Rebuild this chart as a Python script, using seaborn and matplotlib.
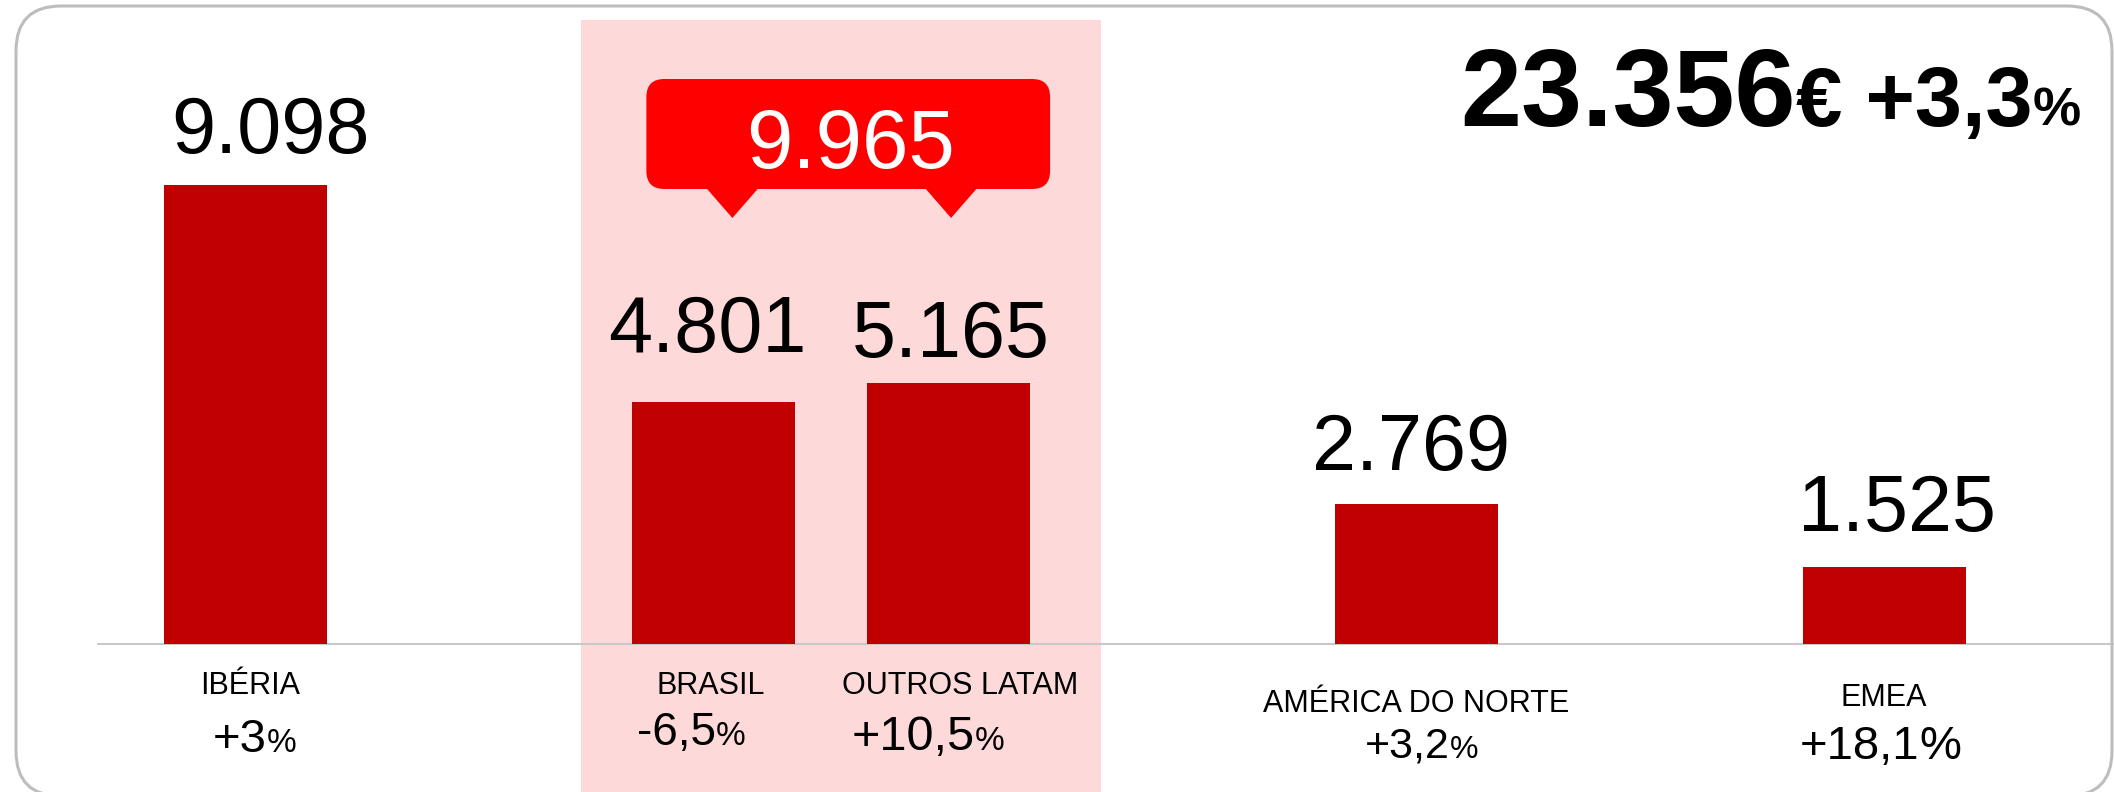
import matplotlib
matplotlib.use("Agg")
import matplotlib.pyplot as plt
from matplotlib.patches import FancyBboxPatch, Polygon, Rectangle
from matplotlib.transforms import IdentityTransform
import seaborn as sns
import pandas as pd

# ---------------- data ----------------
regions = ["IBÉRIA", "BRASIL", "OUTROS LATAM", "AMÉRICA DO NORTE", "EMEA"]
values = [9098, 4801, 5165, 2769, 1525]
growth = ["+3", "-6,5", "+10,5", "+3,2", "+18,1"]
latam_total = 9965
group_total = 23356
group_growth = "+3,3"

# ---------------- layout ----------------
slots = [0, 2, 3, 5, 7]          # horizontal slot of each bar
W, H, DPI = 2114, 792, 100

sns.set_style("white")
plt.rcParams["font.family"] = ["Liberation Sans", "DejaVu Sans"]
plt.rcParams["text.color"] = "black"

fig = plt.figure(figsize=(W / DPI, H / DPI), dpi=DPI)
fig.patch.set_facecolor("white")
ax = fig.add_axes([0, 0, 1, 1])
ax.set_facecolor("none")

ID = IdentityTransform()


def P(x, y):
    """top-origin pixel -> display coords"""
    return (x, H - y)


df = pd.DataFrame({"slot": slots, "value": values, "region": regions})
sns.barplot(data=df, x="slot", y="value", native_scale=True, width=0.696,
            color="#C00000", saturation=1, linewidth=0, ax=ax, zorder=3)
ax.set_xlim(-1.048, 7.978)
ax.set_ylim(-2934, 12765)
ax.set_axis_off()

# pink highlight for LATAM
ax.add_patch(Rectangle(P(581, 792), 520, 772, transform=ID, fc="#FDD9D9",
                       ec="none", zorder=0, clip_on=False))
# baseline
ax.axhline(0, xmin=98 / W, xmax=1, color="#C8C8C8", lw=1.5, zorder=2)
# outer rounded frame
ax.add_patch(FancyBboxPatch(P(16, 796), 2096, 790,
                            boxstyle="round,pad=0,rounding_size=45",
                            transform=ID, fc="none", ec="#BDBDBD", lw=2.2,
                            zorder=6, clip_on=False))

renderer = fig.canvas.get_renderer()


def runs_text(runs, x, y, align="center", color="black"):
    texts, widths = [], []
    for s, size, weight in runs:
        t = fig.text(0, 0, s, fontsize=size, fontweight=weight, transform=ID,
                     ha="left", va="baseline", color=color)
        widths.append(t.get_window_extent(renderer).width)
        texts.append(t)
    x0 = x - sum(widths) / 2 if align == "center" else x
    for t, w in zip(texts, widths):
        t.set_position((x0, y))
        x0 += w


def fmt(v):
    return f"{v:,}".replace(",", ".")


# value labels above bars
label_dx = [25, -7, 3, -5, 12]
label_gap = [32, 50, 26, 34, 36]
for s, v, dx, gap in zip(slots, values, label_dx, label_gap):
    ax.annotate(fmt(v), xy=(s, v), xytext=(dx * 0.72, gap * 0.72),
                textcoords="offset points", ha="center", va="baseline",
                fontsize=57, color="black", zorder=5)

# category + growth labels below baseline
cat_dx = [4.5, -3.5, 12, 0, -1.5]
cat_drop = [50, 50, 50, 68, 62]
pct_dx = [9.5, -22.5, -20, 5, -4.5]
pct_drop = [108, 101, 106, 114, 115]
num_size = [34, 33, 35, 31, 34]
pct_size = [24, 24, 24, 23, 34]
for i, (s, name, g) in enumerate(zip(slots, regions, growth)):
    bx, by = ax.transData.transform((s, 0))
    fig.text(bx + cat_dx[i], by - cat_drop[i], name, transform=ID,
             ha="center", va="baseline", fontsize=22, color="black")
    runs_text([(g, num_size[i], "normal"), ("%", pct_size[i], "normal")],
              bx + pct_dx[i], by - pct_drop[i])

# LATAM callout
b1 = ax.transData.transform((slots[1], 0))[0]
b2 = ax.transData.transform((slots[2], 0))[0]
red = "#FF0000"
ax.add_patch(FancyBboxPatch(P(b1 - 67.5, 189), (b2 + 102) - (b1 - 67.5), 110,
                            boxstyle="round,pad=0,rounding_size=18",
                            transform=ID, fc=red, ec="none", zorder=4,
                            clip_on=False))
for tip in (b1 + 18.5, b2 + 3):
    ax.add_patch(Polygon([P(tip - 27, 187), P(tip + 27, 187), P(tip, 218)],
                         closed=True, transform=ID, fc=red, ec="none",
                         zorder=4, clip_on=False))
fig.text((b1 - 67.5 + b2 + 102) / 2 + 2, H - 168, fmt(latam_total),
         transform=ID, ha="center", va="baseline", fontsize=60,
         color="white")

# group total headline
runs_text([(fmt(group_total), 79, "bold"), ("€", 60, "bold"),
           (" " + group_growth, 61, "bold"), ("%", 39, "bold")],
          1460, H - 126, align="left")

fig.savefig("out.png", dpi=DPI, facecolor="white")
